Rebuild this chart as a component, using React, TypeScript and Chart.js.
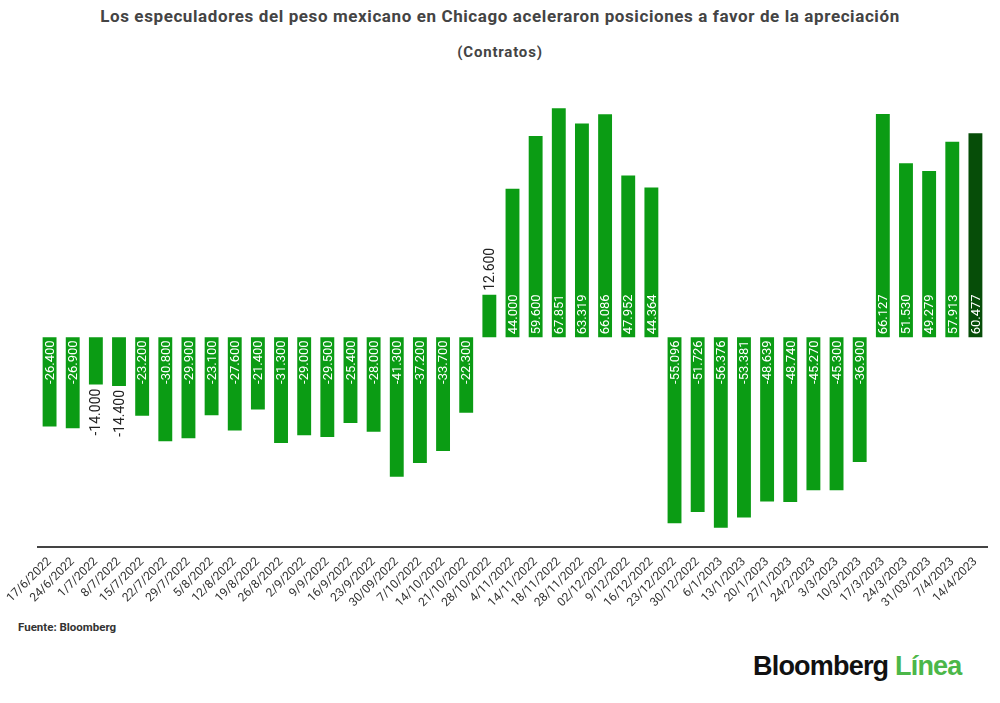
import { useEffect, useRef } from 'react';
import { Chart, registerables } from 'chart.js';

Chart.register(...registerables);

const fechas = [
  '17/6/2022', '24/6/2022', '1/7/2022', '8/7/2022', '15/7/2022', '22/7/2022', '29/7/2022',
  '5/8/2022', '12/8/2022', '19/8/2022', '26/8/2022', '2/9/2022', '9/9/2022', '16/9/2022',
  '23/9/2022', '30/09/2022', '7/10/2022', '14/10/2022', '21/10/2022', '28/10/2022', '4/11/2022',
  '14/11/2022', '18/11/2022', '28/11/2022', '02/12/2022', '9/12/2022', '16/12/2022', '23/12/2022',
  '30/12/2022', '6/1/2023', '13/1/2023', '20/1/2023', '27/1/2023', '24/2/2023', '3/3/2023',
  '10/3/2023', '17/3/2023', '24/3/2023', '31/03/2023', '7/4/2023', '14/4/2023',
];

// contratos netos, en miles
const contratos = [
  -26.4, -26.9, -14.0, -14.4, -23.2, -30.8, -29.9, -23.1, -27.6, -21.4, -31.3, -29.0, -29.5,
  -25.4, -28.0, -41.3, -37.2, -33.7, -22.3, 12.6, 44.0, 59.6, 67.851, 63.319, 66.086, 47.952,
  44.364, -55.096, -51.726, -56.376, -53.381, -48.639, -48.74, -45.27, -45.3, -36.9, 66.127,
  51.53, 49.279, 57.913, 60.477,
];

const VERDE = '#0b9c14';
const VERDE_OSCURO = '#064d08';

const fmt = (v: number) => (v < 0 ? '-' : '') + Math.abs(v).toFixed(3);

const etiquetas = {
  id: 'etiquetas',
  afterDatasetsDraw(chart: any) {
    const ctx = chart.ctx;
    const meta = chart.getDatasetMeta(0);
    ctx.save();
    ctx.textBaseline = 'middle';
    meta.data.forEach((bar: any, i: number) => {
      const v = contratos[i];
      const inside = Math.abs(v) > 20;
      ctx.save();
      if (v >= 0) {
        ctx.translate(bar.x, inside ? bar.base - 3 : bar.y - 4);
        ctx.textAlign = 'left';
      } else {
        ctx.translate(bar.x, inside ? bar.base + 3 : bar.y + 4);
        ctx.textAlign = 'right';
      }
      ctx.font = inside ? '13px Roboto' : '14px Roboto';
      ctx.fillStyle = inside ? '#ffffff' : '#222222';
      ctx.rotate(-Math.PI / 2);
      ctx.fillText(fmt(v), 0, 1);
      ctx.restore();
    });
    ctx.restore();
  },
};

export default function App() {
  const chartRef = useRef<HTMLCanvasElement>(null);
  const chartInstance = useRef<Chart | null>(null);

  useEffect(() => {
    document.body.style.margin = '0';
    if (!chartRef.current) return;
    const ctx = chartRef.current.getContext('2d');
    if (!ctx) return;

    chartInstance.current = new Chart(ctx, {
      type: 'bar',
      data: {
        labels: fechas,
        datasets: [{
          data: contratos,
          backgroundColor: contratos.map((_, i) => (i === contratos.length - 1 ? VERDE_OSCURO : VERDE)),
          barPercentage: 0.6,
          categoryPercentage: 1,
        }],
      },
      options: {
        animation: false,
        responsive: false,
        maintainAspectRatio: false,
        layout: { padding: { left: 38, right: 13, top: 21, bottom: 0 } },
        plugins: {
          legend: { display: false },
          tooltip: { enabled: false },
        },
        scales: {
          y: {
            display: false,
            min: -62,
            max: 70,
          },
          x: {
            grid: { display: false },
            border: { display: true, color: '#444444', width: 2 },
            ticks: {
              color: '#333333',
              font: { family: 'Roboto', size: 12 },
              minRotation: 45,
              maxRotation: 45,
              autoSkip: false,
              padding: 0,
            },
          },
        },
      },
      plugins: [etiquetas],
    });

    return () => {
      if (chartInstance.current) {
        chartInstance.current.destroy();
      }
    };
  }, []);

  return (
    <div style={{ position: 'relative', width: 1000, height: 703, background: '#fff', fontFamily: 'Roboto', overflow: 'hidden' }}>
      <div style={{ position: 'absolute', top: 6, left: 0, width: 1000, textAlign: 'center', fontSize: 17, fontWeight: 700, letterSpacing: 0.6, color: '#444' }}>
        Los especuladores del peso mexicano en Chicago aceleraron posiciones a favor de la apreciación
      </div>
      <div style={{ position: 'absolute', top: 43, left: 0, width: 1000, textAlign: 'center', fontSize: 15, fontWeight: 700, letterSpacing: 0.8, color: '#444' }}>
        (Contratos)
      </div>
      <canvas ref={chartRef} width={1000} height={530} style={{ position: 'absolute', top: 80, left: 0 }} />
      <div style={{ position: 'absolute', top: 620, left: 18, fontSize: 11.5, fontWeight: 700, color: '#333' }}>
        Fuente: Bloomberg
      </div>
      <div style={{ position: 'absolute', top: 651, left: 753, fontFamily: '"Liberation Sans", Arial, sans-serif', fontSize: 27, fontWeight: 900, letterSpacing: -0.8, whiteSpace: 'nowrap' }}>
        <span style={{ color: '#111' }}>Bloomberg</span>{' '}
        <span style={{ color: '#4cb749' }}>Línea</span>
      </div>
    </div>
  );
}
